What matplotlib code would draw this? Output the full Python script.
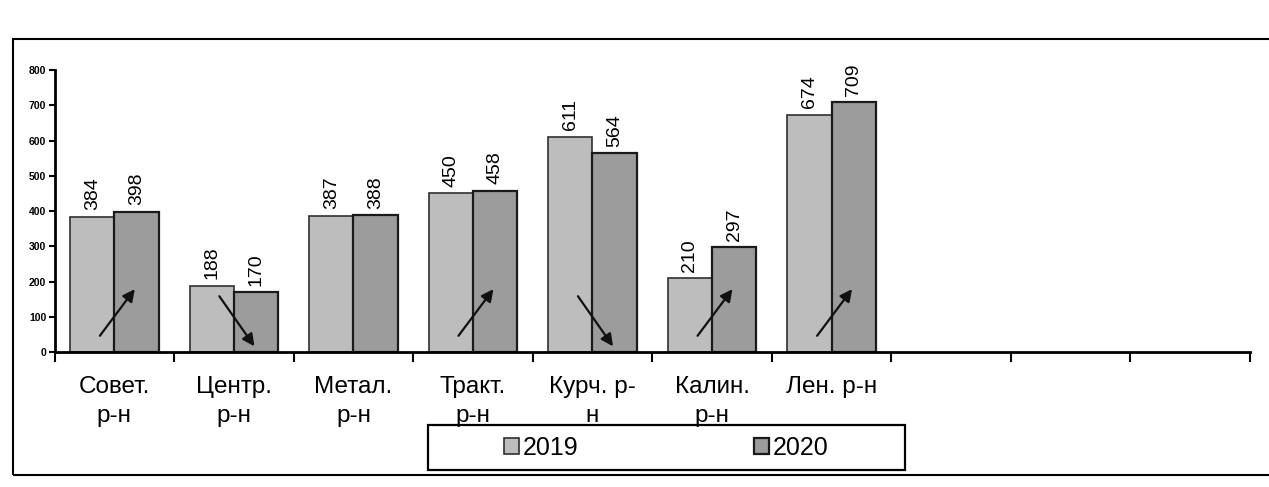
import numpy as np
import matplotlib.pyplot as plt
from matplotlib.patches import Rectangle

plt.rcParams['font.family'] = ['Liberation Sans', 'DejaVu Sans']

# districts (3 empty slots on the right, as in the original sheet)
districts = ['Совет.\nр-н', 'Центр.\nр-н', 'Метал.\nр-н', 'Тракт.\nр-н',
             'Курч. р-\nн', 'Калин.\nр-н', 'Лен. р-н']
vals_2019 = [384, 188, 387, 450, 611, 210, 674]
vals_2020 = [398, 170, 388, 458, 564, 297, 709]
n_slots = 10

fig = plt.figure(figsize=(12.69, 4.87), dpi=100)
ax = fig.add_axes([0.043, 0.277, 0.942, 0.579])

x = np.arange(len(districts))
w = 0.37
b1 = ax.bar(x - w / 2, vals_2019, w, color='#bdbdbd', edgecolor='#303030', linewidth=1.2, label='2019')
b2 = ax.bar(x + w / 2, vals_2020, w, color='#9c9c9c', edgecolor='#1a1a1a', linewidth=1.6, label='2020')

# value labels, rotated
for bars in (b1, b2):
    for r in bars:
        ax.text(r.get_x() + r.get_width() / 2, r.get_height() + 18, str(int(r.get_height())),
                rotation=90, ha='center', va='bottom', fontsize=14)

# trend arrows (up if grew, down if dropped, none if nearly equal)
for i, (a, b) in enumerate(zip(vals_2019, vals_2020)):
    if abs(b - a) < 5:
        continue
    if b > a:
        start, end = (i - w / 2 + 0.05, 40), (i + w / 2, 185)
    else:
        start, end = (i - w / 2 + 0.05, 165), (i + w / 2, 10)
    ax.annotate('', xy=end, xytext=start,
                arrowprops=dict(arrowstyle='-|>', color='#111111', lw=1.6, mutation_scale=18))

ax.set_xlim(-0.5, n_slots - 0.5)
ax.set_ylim(0, 800)
ax.set_yticks(range(0, 801, 100))
ax.tick_params(axis='y', labelsize=7.5, width=1.5, length=4, pad=2)
for t in ax.get_yticklabels():
    t.set_fontweight('bold')

# category ticks on boundaries, labels centred
ax.set_xticks(np.arange(-0.5, n_slots, 1.0))
ax.set_xticklabels([])
ax.set_xticks(x, districts, minor=True)
ax.tick_params(axis='x', which='major', direction='out', length=7, width=1.5)
ax.tick_params(axis='x', which='minor', length=0, labelsize=17.5, pad=17)
for t in ax.get_xticklabels(minor=True):
    t.set_linespacing(1.45)

for s in ('top', 'right'):
    ax.spines[s].set_visible(False)
for s in ('left', 'bottom'):
    ax.spines[s].set_linewidth(2)

# legend box drawn separately so the entries can sit apart inside it
fig.patches.append(Rectangle((0.337, 0.035), 0.376, 0.092, transform=fig.transFigure,
                             fill=False, edgecolor='black', linewidth=1.6))
fig.legend(handles=[b1, b2], loc='center', ncol=2, bbox_to_anchor=(0.525, 0.081),
           fontsize=18, frameon=False, handlelength=0.6, handleheight=0.6,
           handletextpad=0.15, columnspacing=7.0)

# outer frame of the scanned chart
fig.patches.append(Rectangle((0.01, 0.025), 1.2, 0.895, transform=fig.transFigure,
                             fill=False, edgecolor='black', linewidth=1.5))

fig.savefig('out.png', dpi=100)
